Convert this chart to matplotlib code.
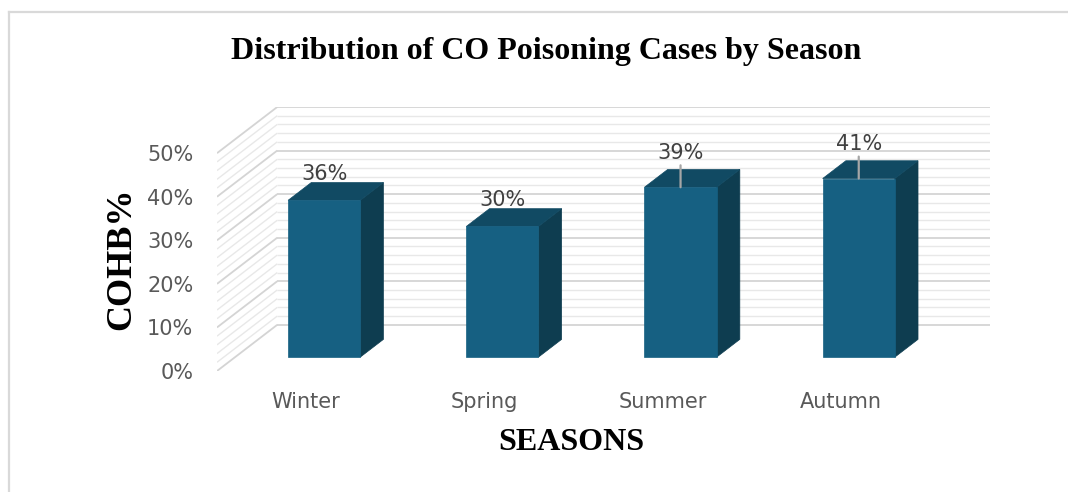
import matplotlib
matplotlib.use('Agg')
import matplotlib.pyplot as plt
from matplotlib.patches import Polygon, Rectangle
from matplotlib.lines import Line2D

seasons = ['Winter', 'Spring', 'Summer', 'Autumn']
cohb = [36, 30, 39, 41]
yticks = [0, 10, 20, 30, 40, 50]
ytick_labels = ['0%', '10%', '20%', '30%', '40%', '50%']
leader = [False, False, True, True]  # labels pushed up with a leader line

# oblique 3d look, in data units
DX, DY = 0.338, 10.6      # full depth of the floor/walls
FRONT, DEPTH = 0.3, 0.385 # where the bars sit in depth, and how deep they are
W = 0.405                 # bar width

c_front, c_side, c_top = '#166082', '#0e3d50', '#114a63'

W_PX, H_PX = 1068, 492
fig = plt.figure(figsize=(W_PX / 100, H_PX / 100), dpi=100)
ax = fig.add_axes([217 / W_PX, 1 - 371 / H_PX, (990 - 217) / W_PX, (371 - 107) / H_PX])
ax.set_xlim(-0.5, len(seasons) - 0.5 + DX)
ax.set_ylim(0, max(yticks) + DY)
for s in ax.spines.values():
    s.set_visible(False)

# walls with grid lines every 2%
x_left, x_right = -0.5, len(seasons) - 0.5
for v in range(0, max(yticks) + 1, 2):
    major = v % 10 == 0
    col = '#d4d4d4' if major else '#e8e8e8'
    lw = 1.3 if major else 1.0
    ax.plot([x_left, x_left + DX], [v, v + DY], color=col, lw=lw, zorder=1, solid_capstyle='butt')
    ax.plot([x_left + DX, x_right + DX], [v + DY, v + DY], color=col, lw=lw, zorder=1, solid_capstyle='butt')

# bars
for i, v in enumerate(cohb):
    x0 = i - W / 2 + FRONT * DX
    y0 = FRONT * DY
    dx, dy = DEPTH * DX, DEPTH * DY
    ax.add_patch(Polygon([(x0 + W, y0), (x0 + W + dx, y0 + dy), (x0 + W + dx, y0 + v + dy), (x0 + W, y0 + v)],
                         closed=True, facecolor=c_side, edgecolor=c_side, lw=0.5, zorder=3))
    ax.add_patch(Polygon([(x0, y0 + v), (x0 + W, y0 + v), (x0 + W + dx, y0 + v + dy), (x0 + dx, y0 + v + dy)],
                         closed=True, facecolor=c_top, edgecolor=c_top, lw=0.5, zorder=3))
    ax.add_patch(Rectangle((x0, y0), W, v, facecolor=c_front, edgecolor=c_front, lw=0.5, zorder=4))
    xc = x0 + W / 2
    if leader[i]:
        ax.annotate(f'{v}%', xy=(xc, y0 + v), xytext=(0, 25), textcoords='offset points',
                    ha='center', va='center', fontsize=15, color='#404040', zorder=6,
                    arrowprops=dict(arrowstyle='-', color='#a6a6a6', lw=1.6, shrinkA=0, shrinkB=0))
    else:
        ax.annotate(f'{v}%', xy=(xc, y0 + v), xytext=(0, 19), textcoords='offset points',
                    ha='center', va='center', fontsize=15, color='#404040', zorder=6)

ax.set_yticks(yticks)
ax.set_yticklabels(ytick_labels)
ax.set_xticks(range(len(seasons)))
ax.set_xticklabels(seasons)
ax.tick_params(axis='y', length=0, pad=17, labelsize=15, labelcolor='#595959')
ax.tick_params(axis='x', length=0, pad=15, labelsize=15, labelcolor='#595959')

serif = ['Liberation Serif', 'DejaVu Serif']
fig.text(546 / W_PX, 1 - 52 / H_PX, 'Distribution of CO Poisoning Cases by Season',
         ha='center', va='center', fontsize=23, fontweight='bold', family=serif)
fig.text(571 / W_PX, 1 - 443 / H_PX, 'SEASONS', ha='center', va='center',
         fontsize=23, fontweight='bold', family=serif)
fig.text(122 / W_PX, 1 - 259 / H_PX, 'COHB%', ha='center', va='center', rotation=90,
         fontsize=26, fontweight='bold', family=serif)

# chart frame (cut off at right and bottom)
fx = 9 / W_PX
fy = 1 - 12 / H_PX
fig.add_artist(Line2D([fx, fx], [0, fy], transform=fig.transFigure, color='#d9d9d9', lw=1.6))
fig.add_artist(Line2D([fx, 1], [fy, fy], transform=fig.transFigure, color='#d9d9d9', lw=1.6))

fig.savefig('out.png', dpi=100)
